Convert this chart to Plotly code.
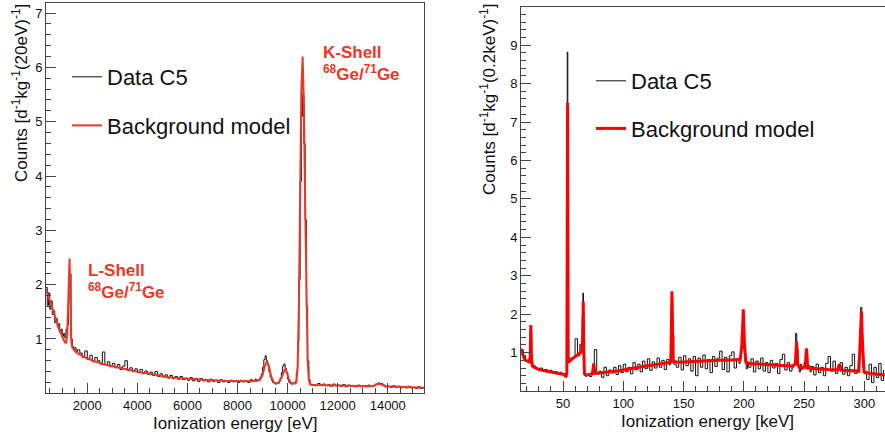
import plotly.graph_objects as go

FONT = "Liberation Sans, Arial, Helvetica, sans-serif"

# ---------------- Left panel: low-energy spectrum [eV] ----------------
# data segments: (first bin left edge, bin step, counts per bin)
left_data_segments = [
    (350, 50, [1.95, 1.62, 1.85, 1.55, 1.70, 1.45, 1.52, 1.30, 1.38, 1.22, 1.28, 1.12, 1.18, 1.05]),
    (1050, 50, [1.10, 1.02, 1.18, 1.26, 1.75, 2.20, 1.00, 0.86, 0.80, 0.84, 0.76, 0.80]),
    (1700, 100, [0.74, 0.66, 0.78, 0.62, 0.70, 0.58, 0.66, 0.60, 0.54, 0.76,
                 0.52, 0.58, 0.49, 0.55, 0.47, 0.53, 0.44, 0.50, 0.60, 0.42,
                 0.47, 0.40, 0.45, 0.38, 0.44, 0.36, 0.41, 0.35, 0.39, 0.33,
                 0.40, 0.31, 0.36, 0.30, 0.34, 0.28, 0.33, 0.27, 0.31, 0.26,
                 0.31, 0.25, 0.28, 0.24, 0.29, 0.23, 0.27, 0.22, 0.27, 0.23,
                 0.25, 0.21, 0.26, 0.22, 0.24, 0.20, 0.25, 0.21, 0.23, 0.20,
                 0.24, 0.21, 0.23, 0.20, 0.24, 0.21, 0.23, 0.20, 0.25, 0.22,
                 0.26]),
    (8750, 50, [0.23, 0.25, 0.24, 0.30, 0.36, 0.48, 0.62, 0.69, 0.60, 0.52,
                0.40, 0.30, 0.24, 0.20, 0.19, 0.17, 0.19, 0.18, 0.22, 0.28,
                0.38, 0.50, 0.54, 0.46, 0.36, 0.26, 0.20, 0.18, 0.17, 0.19,
                0.18, 0.22, 0.40, 0.95, 2.10, 3.90, 5.10, 5.50, 4.60, 3.20,
                1.60, 0.60, 0.25, 0.17, 0.15]),
    (11000, 100, [0.16, 0.14, 0.18, 0.15, 0.17, 0.14, 0.16, 0.13, 0.17, 0.14,
                  0.15, 0.13, 0.16, 0.12, 0.15, 0.13, 0.14, 0.12, 0.15, 0.12,
                  0.14, 0.12, 0.15, 0.13, 0.14, 0.17, 0.19, 0.18, 0.15, 0.12,
                  0.13, 0.11, 0.14, 0.11, 0.13, 0.10, 0.12, 0.10, 0.13, 0.10,
                  0.11, 0.09, 0.12, 0.09, 0.11]),
]

left_model_energy = [350, 400, 450, 500, 550, 600, 650, 700, 750, 800, 850, 900, 950, 1000,
                     1050, 1100, 1150, 1200, 1240, 1270, 1290, 1310, 1330, 1360, 1400, 1450,
                     1500, 1600, 1700, 1800, 1900, 2000, 2100, 2200, 2300, 2400, 2500, 2600,
                     2700, 2800, 2900, 3000, 3200, 3400, 3600, 3800, 4000, 4200, 4400, 4600,
                     4800, 5000, 5200, 5400, 5600, 5800, 6000, 6300, 6600, 7000, 7400, 7800,
                     8200, 8600, 8800, 8900, 9000, 9100, 9180, 9250, 9350, 9450, 9550, 9650,
                     9750, 9850, 9900, 9950, 10050, 10150, 10300, 10350, 10400, 10450, 10500,
                     10550, 10600, 10650, 10700, 10750, 10800, 10850, 10900, 11000, 11500,
                     12000, 12500, 13000, 13400, 13600, 13700, 13900, 14500, 15000, 15450]
left_model_counts = [1.92, 1.84, 1.80, 1.70, 1.66, 1.56, 1.50, 1.42, 1.36, 1.28, 1.22, 1.14, 1.10, 1.03,
                     0.99, 0.94, 0.93, 1.08, 1.60, 2.30, 2.48, 2.05, 1.30, 0.95, 0.84, 0.80,
                     0.78, 0.74, 0.71, 0.69, 0.66, 0.64, 0.63, 0.60, 0.59, 0.57, 0.56, 0.54,
                     0.53, 0.52, 0.50, 0.49, 0.47, 0.45, 0.43, 0.42, 0.40, 0.38, 0.37, 0.35,
                     0.33, 0.32, 0.30, 0.29, 0.28, 0.27, 0.27, 0.26, 0.25, 0.24, 0.23, 0.225,
                     0.22, 0.22, 0.23, 0.25, 0.34, 0.52, 0.59, 0.50, 0.30, 0.20, 0.18, 0.19,
                     0.28, 0.42, 0.45, 0.42, 0.26, 0.18, 0.18, 0.20, 0.50, 1.60, 3.60,
                     5.60, 6.20, 5.30, 3.50, 1.70, 0.60, 0.25, 0.16, 0.155, 0.15,
                     0.14, 0.135, 0.13, 0.13, 0.17, 0.17, 0.13, 0.115, 0.105, 0.10]

left_xticks = [2000, 4000, 6000, 8000, 10000, 12000, 14000]
left_yticks = [1, 2, 3, 4, 5, 6, 7]

# ---------------- Right panel: high-energy spectrum [keV] ----------------
right_data_segments = [
    (15, 2, [1.08, 0.92, 0.78]),
    (21, 1, [0.74, 0.80, 1.55, 0.72, 0.66]),
    (27, 2, [0.62, 0.57, 0.60, 0.53, 0.56, 0.50, 0.54, 0.47, 0.51, 0.45, 0.49, 0.43, 0.46]),
    (52, 0.5, [0.40, 0.36, 2.60, 8.82, 1.20, 0.78, 0.74, 0.82, 0.76, 0.86]),
    (58, 2, [0.88, 1.36, 0.92, 1.22]),
    (65, 0.5, [1.02, 1.08, 1.90, 2.55, 1.10, 0.45, 0.40, 0.44, 0.38, 0.42]),
    (70, 2, [0.42, 0.38, 0.52, 1.08, 0.44, 0.52, 0.36, 0.62, 0.40, 0.55,
             0.47, 0.62, 0.43, 0.66, 0.48, 0.70, 0.50, 0.62, 0.45, 0.74,
             0.55, 0.70, 0.50, 0.78, 0.58, 0.84, 0.54, 0.76, 0.60, 0.86,
             0.62, 0.80, 0.56, 0.82]),
    (138, 1, [0.68, 0.95, 2.40, 1.45, 0.70]),
    (144, 2, [0.62, 0.88, 0.55, 0.92, 0.66, 0.84, 0.52, 0.90, 0.40, 0.86,
              0.62, 0.94, 0.58, 0.82, 0.48, 0.90, 0.64, 0.86, 1.04, 0.56,
              0.88, 0.50, 0.92, 1.02, 0.60, 0.84]),
    (196, 1, [0.72, 0.85, 1.50, 2.00, 1.10, 0.78, 0.58, 0.70]),
    (204, 2, [0.62, 0.84, 0.50, 0.78, 0.58, 0.86, 0.52, 0.74, 0.48, 0.80,
              0.60, 0.72, 0.46, 0.82, 0.96, 0.55, 0.74, 0.52]),
    (240, 1, [0.60, 0.66, 0.80, 1.50, 1.10, 0.62, 0.50, 0.70, 0.56, 0.62,
              0.75, 1.00, 0.82, 0.58, 0.66, 0.50]),
    (256, 2, [0.64, 0.42, 0.70, 0.48, 0.62, 0.40, 0.72, 0.90, 0.52, 0.78,
              0.46, 0.66, 0.74, 0.44, 0.62, 0.40, 0.66, 0.96, 0.46]),
    (294, 1, [0.55, 0.80, 1.60, 2.18, 1.20, 0.60, 0.45]),
    (302, 2, [0.30, 0.70, 0.22, 0.62, 0.35, 0.72, 0.28, 0.55]),
]

right_model_energy = [15, 16, 17, 18, 19, 20, 21, 22, 22.8, 23.3, 23.8, 24.5, 26, 28, 30, 33, 36,
                      40, 44, 48, 51, 52.5, 53.2, 53.8, 54.3, 55, 57, 59, 61, 63, 65, 66, 66.4,
                      66.8, 67.3, 67.8, 69, 72, 74.5, 75.5, 76.5, 80, 85, 90, 95, 100, 105, 110,
                      115, 120, 125, 130, 135, 139.5, 140.4, 141.3, 145, 150, 160, 170, 180,
                      190, 197, 198.5, 199.6, 200.6, 201.8, 205, 210, 220, 230, 240, 242.8,
                      243.8, 244.8, 246, 251.2, 252.1, 253.0, 260, 270, 278, 279.5, 281, 290,
                      295.5, 296.5, 297.6, 298.6, 299.8, 305, 310, 317]
right_model_counts = [1.10, 1.00, 0.90, 0.84, 0.80, 0.78, 0.76, 0.76, 0.90, 1.72, 0.90, 0.66, 0.62,
                      0.59, 0.56, 0.54, 0.52, 0.50, 0.47, 0.45, 0.43, 0.37, 0.50, 7.50, 0.90,
                      0.78, 0.82, 0.86, 0.90, 0.96, 1.02, 1.06, 1.50, 2.33, 1.00, 0.45, 0.42,
                      0.43, 0.46, 0.72, 0.46, 0.47, 0.48, 0.50, 0.52, 0.55, 0.58, 0.61, 0.64,
                      0.66, 0.68, 0.71, 0.72, 0.75, 2.60, 0.78, 0.75, 0.76, 0.78, 0.79, 0.80,
                      0.81, 0.82, 1.20, 2.13, 1.20, 0.75, 0.72, 0.71, 0.69, 0.67, 0.65, 0.70,
                      1.29, 0.70, 0.62, 0.62, 1.11, 0.60, 0.58, 0.56, 0.55, 0.70, 0.54, 0.52,
                      0.52, 1.20, 2.07, 1.20, 0.50, 0.46, 0.44, 0.42]

right_xticks = [50, 100, 150, 200, 250, 300]
right_yticks = [1, 2, 3, 4, 5, 6, 7, 8, 9, 10]


def expand(segments):
    xs, ys = [], []
    for start, step, vals in segments:
        for i, v in enumerate(vals):
            xs.append(start + i * step)
            ys.append(v)
    return xs, ys


lx, ly = expand(left_data_segments)
rx, ry = expand(right_data_segments)

W, H = 885, 439
def px(x):
    return x / W
def py(y):
    return 1 - y / H

red = "#ee3526"

fig = go.Figure()
fig.add_trace(go.Scatter(x=lx, y=ly, mode="lines", line=dict(color="#111111", width=1, shape="hv"),
                         name="Data C5", xaxis="x", yaxis="y", legend="legend", legendgroup="a"))
fig.add_trace(go.Scatter(x=left_model_energy, y=left_model_counts, mode="lines",
                         line=dict(color=red, width=2), name="Background model",
                         xaxis="x", yaxis="y", legend="legend", legendgroup="b"))
fig.add_trace(go.Scatter(x=rx, y=ry, mode="lines", line=dict(color="#111111", width=1, shape="hv"),
                         name="Data C5", xaxis="x2", yaxis="y2", legend="legend2", legendgroup="c"))
fig.add_trace(go.Scatter(x=right_model_energy, y=right_model_counts, mode="lines",
                         line=dict(color="#ff0000", width=3), name="Background model",
                         xaxis="x2", yaxis="y2", legend="legend2", legendgroup="d"))

axis_common = dict(showline=True, linecolor="#444444", linewidth=1, mirror=True, showgrid=False,
                   zeroline=False, ticks="inside", ticklen=10, tickcolor="#444444",
                   automargin=False, tickformat="d",
                   tickfont=dict(family=FONT, size=13, color="#111111"))

fig.update_layout(
    width=W, height=H, margin=dict(l=0, r=0, t=0, b=0, autoexpand=False),
    paper_bgcolor="white", plot_bgcolor="white",
    xaxis=dict(domain=[px(46), px(424.3)], range=[350, 15460], anchor="y", tickmode="array",
               tickvals=left_xticks, minor=dict(dtick=500, tick0=0, ticks="inside", ticklen=5,
                                                tickcolor="#444444"), **axis_common),
    yaxis=dict(domain=[py(393.3), py(2.7)], range=[0, 7.19], anchor="x", tickmode="array",
               tickvals=left_yticks, minor=dict(dtick=0.2, tick0=0, ticks="inside", ticklen=5,
                                                tickcolor="#444444"), **axis_common),
    xaxis2=dict(domain=[px(521), 1.0], range=[15.15, 317.2], anchor="y2", tickmode="array",
                tickvals=right_xticks, minor=dict(dtick=10, tick0=0, ticks="inside", ticklen=5,
                                                  tickcolor="#444444"), **axis_common),
    yaxis2=dict(domain=[py(391.1), py(6.7)], range=[0, 10], anchor="x2", tickmode="array",
                tickvals=right_yticks, minor=dict(dtick=0.2, tick0=0, ticks="inside", ticklen=5,
                                                  tickcolor="#444444"), **axis_common),
    legend=dict(x=px(67), y=py(56), xanchor="left", yanchor="top", bgcolor="rgba(0,0,0,0)",
                font=dict(family=FONT, size=22, color="#111111"), tracegroupgap=17),
    legend2=dict(x=px(591), y=py(60), xanchor="left", yanchor="top", bgcolor="rgba(0,0,0,0)",
                 font=dict(family=FONT, size=22, color="#111111"), tracegroupgap=16),
    showlegend=True,
)

annotations = [
    dict(text="<b>K-Shell</b><br><b><sup>68</sup>Ge/<sup>71</sup>Ge</b>", x=px(321), y=py(64),
         xanchor="left", yanchor="middle", align="left", font=dict(family=FONT, size=17, color=red)),
    dict(text="<b>L-Shell</b><br><b><sup>68</sup>Ge/<sup>71</sup>Ge</b>", x=px(86), y=py(281),
         xanchor="left", yanchor="middle", align="left", font=dict(family=FONT, size=17, color=red)),
    dict(text="Ionization energy [eV]", x=px(235), y=py(423), xanchor="center", yanchor="middle",
         font=dict(family=FONT, size=17, color="#111111")),
    dict(text="Ionization energy [keV]", x=px(707), y=py(421), xanchor="center", yanchor="middle",
         font=dict(family=FONT, size=17, color="#111111")),
    dict(text="Counts [d<sup>-1</sup>kg<sup>-1</sup>(20eV)<sup>-1</sup>]", x=px(20), y=py(93),
         xanchor="center", yanchor="middle", textangle=-90,
         font=dict(family=FONT, size=17, color="#111111")),
    dict(text="Counts [d<sup>-1</sup>kg<sup>-1</sup>(0.2keV)<sup>-1</sup>]", x=px(488), y=py(100),
         xanchor="center", yanchor="middle", textangle=-90,
         font=dict(family=FONT, size=17, color="#111111")),
]
for a in annotations:
    a.update(xref="paper", yref="paper", showarrow=False)
fig.update_layout(annotations=annotations)

# remove the browser's default 8px page margin so the figure fills the window exactly
fig.write_html("out.html", config={"displayModeBar": False},
               post_script="document.body.style.margin='0';")
